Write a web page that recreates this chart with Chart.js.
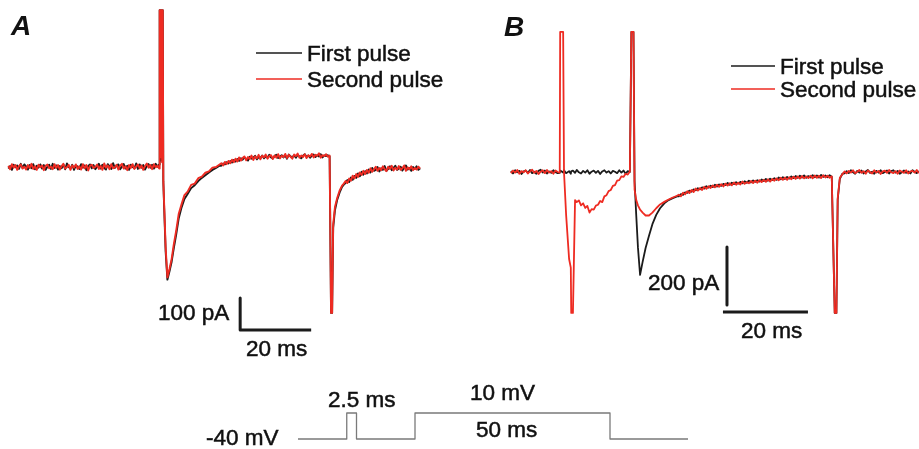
<!DOCTYPE html>
<html>
<head>
<meta charset="utf-8">
<script src="https://cdn.jsdelivr.net/npm/chart.js@4/dist/chart.umd.min.js"></script>
<style>
  html, body { margin: 0; padding: 0; background: #fff; }
  #traces { display: block; }
</style>
</head>
<body>
<canvas id="traces" width="919" height="449"></canvas>
<script>
  // panel A: currents (pA) against time (ms) from step onset
  const timeA = [
    // holding
    -43, -42.5, -42, -41.5, -41, -40.5, -40, -39.5, -39, -38.5,
    -38, -37.5, -37, -36.5, -36, -35.5, -35, -34.5, -34, -33.5,
    -33, -32.5, -32, -31.5, -31, -30.5, -30, -29.5, -29, -28.5,
    -28, -27.5, -27, -26.5, -26, -25.5, -25, -24.5, -24, -23.5,
    -23, -22.5, -22, -21.5, -21, -20.5, -20, -19.5, -19, -18.5,
    -18, -17.5, -17, -16.5, -16, -15.5, -15, -14.5, -14, -13.5,
    -13, -12.5, -12, -11.5, -11, -10.5, -10, -9.5, -9, -8.5,
    -8, -7.5, -7, -6.5, -6, -5.5, -5, -4.5, -4, -3.5,
    -3, -2.5, -2, -1.5, -1, -0.5,
    // capacitive transient + inward current
    -0.45, -0.3, -0.15, 0, 0.15, 0.3, 0.45, 0.55,
    0.65, 0.9, 1.3, 1.8, 2.4, 3.0, 3.6, 4.3, 5.0, 5.8, 6.6, 7.5, 8.5, 9.5,
    10.5, 11.5, 12.5, 13.5, 14.5, 15.5, 16.5,
    // plateau during the step
    17, 17.5, 18, 18.5, 19, 19.5, 20, 20.5, 21, 21.5,
    22, 22.5, 23, 23.5, 24, 24.5, 25, 25.5, 26, 26.5,
    27, 27.5, 28, 28.5, 29, 29.5, 30, 30.5, 31, 31.5,
    32, 32.5, 33, 33.5, 34, 34.5, 35, 35.5, 36, 36.5,
    37, 37.5, 38, 38.5, 39, 39.5, 40, 40.5, 41, 41.5,
    42, 42.5, 43, 43.5, 44, 44.5, 45, 45.5, 46, 46.5,
    47, 47.5,
    // step off + tail
    47.9, 48.2, 48.5, 49, 49.6, 50.3, 51, 51.5,
    52, 52.5, 53, 53.5, 54, 54.5, 55, 55.5, 56, 56.5,
    57, 57.5, 58, 58.5, 59, 59.5, 60, 60.5, 61, 61.5,
    62, 62.5, 63, 63.5, 64, 64.5, 65, 65.5, 66, 66.5,
    67, 67.5, 68, 68.5, 69, 69.5, 70, 70.5, 71, 71.5,
    72, 72.5, 73
  ];
  const firstA = [
    -5, 3, -9, 7, -1, 5, -6, 10, -3, 8,
    2, -8, 6, -4, 9, -7, 4, -2, 8, -5,
    6, -9, 1, 7, -6, 10, -3, 5, -8, 3,
    -4, 8, -7, 11, 0, -5, 7, -9, 4, 2,
    -6, 9, -2, 5, -10, 3, 8, -4, 6, -7,
    1, 10, -5, 7, -3, -8, 9, 2, -6, 12,
    -3, 5, 8, -7, 1, 9, -5, 4, -9, 7,
    0, -4, 11, -6, 8, -2, 6, -8, 3, 9,
    -2, 7, -5, 10, 1, 8,
    490, 25, 490, 20, 490, 30, 490, 490,
    -45, -130, -262, -352, -326, -296, -254, -210, -160, -126, -100, -84, -66,
    -57, -44, -34, -26, -17, -9, -3, 4,
    4, 11, 8, 15, 11, 19, 14, 22, 17, 25,
    19, 27, 23, 30, 25, 20, 32, 26, 29, 35,
    24, 31, 28, 36, 27, 33, 29, 38, 30, 27,
    34, 38, 28, 33, 37, 30, 36, 26, 39, 33,
    31, 36, 29, 38, 33, 27, 35, 40, 32, 36,
    29, 35, 39, 31, 37, 33, 40, 30, 36, 34,
    37, 33,
    -456, -456, -190, -135, -104, -80, -62, -55,
    -50, -41, -47, -33, -40, -28, -34, -20, -29, -15,
    -24, -13, -20, -8, -17, -3, -12, -9, 0, -14,
    -4, -9, 3, -12, -6, 2, -10, -3, 4, -9,
    -5, 1, -11, -2, 5, -8, -3, -12, 0, -6,
    2, -9, -4
  ];
  const secondA = [
    4, -7, 9, -2, 6, -9, 3, 8, -5, 1,
    -8, 6, -3, 10, -6, 2, -9, 7, -1, 5,
    -10, 4, 8, -4, 1, -7, 9, -3, 6, -8,
    3, 10, -5, -1, 7, -9, 5, -2, 8, -6,
    2, -8, 9, -4, 6, -11, 4, 7, -3, 0,
    8, -6, 3, -9, 11, -2, 5, -7, 9, -4,
    -1, 7, -8, 4, 10, -5, 2, -10, 6, -3,
    9, -6, 1, 8, -4, 5, -9, 3, 11, -2,
    6, -7, 9, -1, 4, -5,
    490, 20, 490, 30, 490, 15, 490, 490,
    -40, -120, -250, -345, -318, -287, -242, -197, -146, -116, -88, -77, -56,
    -52, -35, -30, -18, -14, -2, 0, 8,
    12, 5, 16, 9, 19, 12, 23, 15, 26, 17,
    30, 20, 28, 33, 21, 31, 25, 36, 22, 33,
    27, 38, 24, 35, 30, 39, 26, 34, 37, 25,
    36, 29, 40, 27, 35, 31, 41, 28, 38, 32,
    26, 39, 34, 42, 29, 36, 31, 40, 28, 37,
    33, 41, 30, 38, 35, 43, 29, 37, 34, 40,
    32, 36,
    -456, -456, -180, -125, -98, -74, -58, -52,
    -44, -50, -36, -43, -27, -36, -22, -31, -17, -25,
    -12, -22, -9, -18, -4, -15, -7, 1, -12, -3,
    -10, 2, -7, -13, 1, -6, 4, -11, -2, -8,
    3, -9, -4, 5, -12, -1, -7, 2, -10, -3,
    -8, 1, -5
  ];

  // panel B: same step, with a 2.5 ms prepulse before the second one
  const timeB = [
    -28.5, -28, -27.5, -27, -26.5, -26, -25.5, -25, -24.5, -24,
    -23.5, -23, -22.5, -22, -21.5, -21, -20.5, -20, -19.5, -19,
    -18.5, -18, -17.5,
    // prepulse
    -17.0, -16.9, -16.2, -16.0, -15.5, -14.8, -14.4, -14.3, -13.9,
    -13.4, -13, -12.5, -12, -11.5, -11, -10.5, -10, -9.5, -9,
    -8.5, -8, -7.5, -7, -6.5, -6, -5.5, -5, -4.5, -4,
    -3.5, -3, -2.5, -2, -1.5, -1, -0.5,
    // step on
    -0.15, 0.35, 0.6, 1.0, 1.4, 1.9, 2.5, 3.2, 4.0, 4.8, 5.7, 6.6, 7.6, 8.6,
    9.6, 10.6,
    11, 11.5, 12, 12.5, 13, 13.5, 14, 14.5, 15, 15.5,
    16, 16.5, 17, 17.5, 18, 18.5, 19, 19.5, 20, 20.5,
    21, 21.5, 22, 22.5, 23, 23.5, 24, 24.5, 25, 25.5,
    26, 26.5, 27, 27.5, 28, 28.5, 29, 29.5, 30, 30.5,
    31, 31.5, 32, 32.5, 33, 33.5, 34, 34.5, 35, 35.5,
    36, 36.5, 37, 37.5, 38, 38.5, 39, 39.5, 40, 40.5,
    41, 41.5, 42, 42.5, 43, 43.5, 44, 44.5, 45, 45.5,
    46, 46.5, 47,
    // step off
    47.7, 48.1, 48.4, 48.9, 49.5, 50,
    50.5, 51, 51.5, 52, 52.5, 53, 53.5, 54, 54.5, 55,
    55.5, 56, 56.5, 57, 57.5, 58, 58.5, 59, 59.5, 60,
    60.5, 61, 61.5, 62, 62.5, 63, 63.5, 64, 64.5, 65,
    65.5, 66, 66.5, 67, 67.5
  ];
  const firstB = [
    3, -5, 6, -1, 4, -7, 2, 5, -3, 7,
    -4, 1, -6, 4, 8, -2, 5, -5, 2, -3,
    6, -1, -4,
    -3, 5, -2, 6, -4, 3, -6, 2, 5,
    -3, 7, -1, -5, 4, -2, 6, -6, 1, 5,
    -3, 4, -7, 2, 6, -2, 3, -5, 4, 1,
    -4, 6, -2, 5, -6, 3, 0,
    483, 483, -30, -150, -260, -355, -310, -262, -220, -180, -148, -125, -108,
    -97, -90, -84,
    -84, -76, -79, -70, -72, -64, -68, -60, -63, -56,
    -60, -53, -57, -49, -54, -47, -52, -44, -50, -43,
    -48, -41, -45, -38, -44, -37, -42, -35, -40, -34,
    -39, -32, -37, -30, -36, -29, -34, -28, -33, -26,
    -31, -24, -30, -23, -28, -21, -27, -19, -25, -18,
    -24, -17, -23, -15, -21, -14, -20, -13, -19, -12,
    -20, -14, -19, -11, -18, -12, -19, -10, -17, -12,
    -18, -11, -16,
    -486, -486, -95, -24, -6, -5,
    3, -4, 6, -1, -6, 4, -2, 5, -5, 2,
    7, -3, 1, -6, 4, -2, 6, -4, 0, 5,
    -5, 3, 6, -2, 4, -6, -1, 5, -3, 2,
    -5, 6, 1, -4, 3
  ];
  const secondB = [
    -4, 5, -2, 7, -6, 3, -1, 6, -5, 2,
    8, -3, 4, -7, 1, 6, -4, 7, -2, 3,
    -6, 5, 0,
    -2, 483, 483, 0, -148, -300, -330, -486, -486,
    -97, -104, -98, -115, -108, -124, -117, -140, -128, -130,
    -116, -113, -100, -104, -84, -80, -66, -62, -48, -45,
    -30, -28, -15, -17, -6, -9, 2,
    483, 483, -60, -97, -115, -130, -140, -150, -150, -140, -125, -112, -103,
    -95, -88, -82,
    -78, -84, -71, -77, -66, -73, -62, -69, -57, -64,
    -55, -62, -51, -58, -49, -55, -46, -53, -44, -51,
    -42, -50, -40, -47, -39, -46, -36, -44, -37, -43,
    -33, -41, -35, -39, -31, -38, -30, -37, -28, -35,
    -27, -34, -25, -33, -24, -30, -22, -29, -20, -27,
    -19, -27, -18, -25, -16, -24, -15, -23, -14, -22,
    -15, -21, -13, -22, -12, -20, -13, -21, -11, -19,
    -13, -20, -15,
    -486, -486, -90, -20, -8, 2,
    -5, 4, -2, 6, -4, 1, 7, -3, 3, -6,
    5, 0, -5, 6, -2, 4, -7, 2, 5, -3,
    7, -1, -4, 3, -6, 5, 1, -3, 6, -5,
    2, 4, -2, 7, -4
  ];

  // command voltage (mV): prepulse then 50 ms step from -40 mV
  const timeP = [-30, -17.5, -17.5, -15, -15, 0, 0, 50, 50, 70];
  const voltP = [-40, -40, 10, 10, -40, -40, 10, 10, -40, -40];

  // scale bars: 100 pA / 20 ms (A), 200 pA / 20 ms (B)
  const barA_ms = [22.3, 22.3, 42.3];
  const barA_pA = [-409, -509, -509];
  const barB_ms = [22.35, 22.35, null, 21.4, 41.4];
  const barB_pA = [-259, -459, null, -483, -483];

  const W = 919, H = 449;
  const BLACK = "#1b1b1b";
  const RED = "#ee2b22";
  const FONT = '"Liberation Sans", Arial, sans-serif';

  function xRange(zeroPx, pxPerMs) {
    return { min: -zeroPx / pxPerMs, max: (W - zeroPx) / pxPerMs };
  }
  function yRange(basePx, baseVal, pxPerUnit) {
    return { max: baseVal + basePx / pxPerUnit, min: baseVal - (H - basePx) / pxPerUnit };
  }
  function pts(xs, ys) {
    return xs.map((x, i) => ({ x: x, y: ys[i] }));
  }
  function trace(xs, ys, color, xAxis, yAxis, width) {
    return {
      data: pts(xs, ys),
      borderColor: color,
      borderWidth: width,
      pointRadius: 0,
      tension: 0,
      fill: false,
      spanGaps: false,
      borderJoinStyle: "round",
      xAxisID: xAxis,
      yAxisID: yAxis,
    };
  }

  const texts = [
    { t: "A", x: 11, y: 35, f: "italic bold 28px " + FONT },
    { t: "B", x: 504, y: 36, f: "italic bold 28px " + FONT },
    { t: "First pulse", x: 307, y: 61 },
    { t: "Second pulse", x: 307, y: 87 },
    { t: "First pulse", x: 780, y: 74 },
    { t: "Second pulse", x: 780, y: 97 },
    { t: "100 pA", x: 158, y: 320 },
    { t: "20 ms", x: 246, y: 356 },
    { t: "200 pA", x: 648, y: 290 },
    { t: "20 ms", x: 741, y: 338 },
    { t: "-40 mV", x: 206, y: 445 },
    { t: "2.5 ms", x: 328, y: 407 },
    { t: "10 mV", x: 470, y: 400 },
    { t: "50 ms", x: 476, y: 437 },
  ];
  const keys = [
    { x0: 256, x1: 302, y: 53, c: BLACK },
    { x0: 256, x1: 302, y: 79, c: RED },
    { x0: 731, x1: 775, y: 66, c: BLACK },
    { x0: 731, x1: 775, y: 89, c: RED },
  ];

  const annotate = {
    id: "annotate",
    afterDraw(chart) {
      const ctx = chart.ctx;
      ctx.save();
      keys.forEach((k) => {
        ctx.strokeStyle = k.c;
        ctx.lineWidth = 1.6;
        ctx.beginPath();
        ctx.moveTo(k.x0, k.y);
        ctx.lineTo(k.x1, k.y);
        ctx.stroke();
      });
      ctx.fillStyle = "#111";
      ctx.strokeStyle = "#111";
      ctx.lineWidth = 0.5;
      ctx.textBaseline = "alphabetic";
      texts.forEach((s) => {
        ctx.font = s.f || "22.5px " + FONT;
        ctx.fillText(s.t, s.x, s.y);
        if (!s.f) ctx.strokeText(s.t, s.x, s.y);
      });
      ctx.restore();
    },
  };

  const hidden = (range) => Object.assign({ type: "linear", display: false }, range);

  new Chart(document.getElementById("traces"), {
    type: "line",
    data: {
      datasets: [
        trace(timeA, secondA, RED, "xA", "yA", 1.9),
        trace(timeA, firstA, BLACK, "xA", "yA", 1.9),
        trace(timeB, secondB, RED, "xB", "yB", 1.8),
        trace(timeB, firstB, BLACK, "xB", "yB", 1.8),
        trace(barA_ms, barA_pA, BLACK, "xA", "yA", 3),
        trace(barB_ms, barB_pA, BLACK, "xB", "yB", 3),
        trace(timeP, voltP, "#7a7a7a", "xP", "yP", 1.3),
      ],
    },
    options: {
      responsive: false,
      animation: false,
      devicePixelRatio: 1,
      layout: { padding: 0 },
      plugins: {
        legend: { display: false },
        tooltip: { enabled: false },
      },
      scales: {
        xA: hidden(xRange(161, 3.55)),
        yA: hidden(yRange(167, 0, 0.32)),
        xB: hidden(xRange(632, 4.25)),
        yB: hidden(yRange(172, 0, 0.29)),
        xP: hidden(xRange(415, 3.9)),
        yP: hidden(yRange(439, -40, 0.52)),
      },
    },
    plugins: [annotate],
  });
</script>
</body>
</html>
